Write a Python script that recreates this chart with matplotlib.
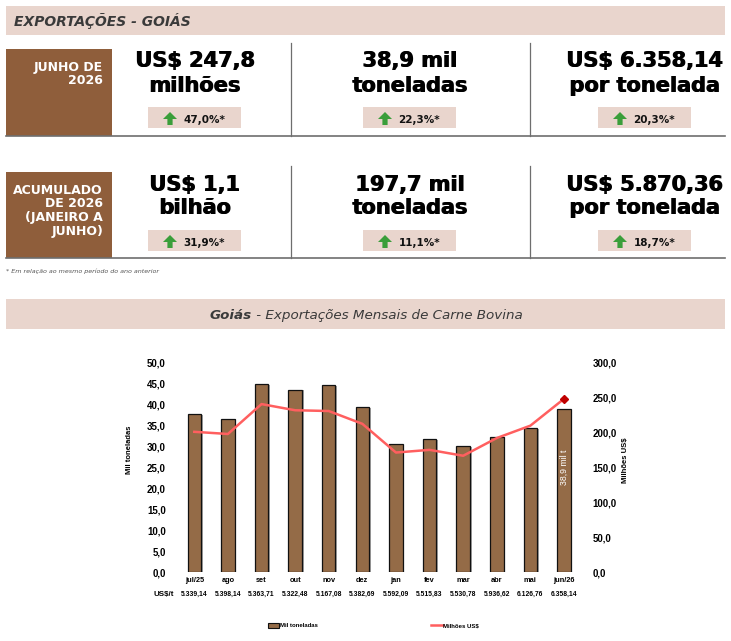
import matplotlib
matplotlib.use('Agg')
import matplotlib.pyplot as plt
from matplotlib.patches import Rectangle, Polygon
from matplotlib.lines import Line2D
import matplotlib.transforms as mtransforms
import matplotlib.patheffects as pe

# ---------------- data ----------------
months = ['jul/25', 'ago', 'set', 'out', 'nov', 'dez', 'jan', 'fev', 'mar', 'abr', 'mai', 'jun/26']
mil_toneladas = [37.6, 36.6, 44.8, 43.5, 44.6, 39.4, 30.6, 31.7, 30.1, 32.3, 34.3, 38.9]
milhoes_usd = [200.7, 197.6, 240.3, 231.5, 230.4, 212.1, 171.1, 174.9, 166.5, 191.8, 209.5, 247.8]
usd_por_t = ['5.339,14', '5.398,14', '5.363,71', '5.322,48', '5.167,08', '5.382,69',
             '5.592,09', '5.515,83', '5.530,78', '5.936,62', '6.126,76', '6.358,14']

kpi_periods = [['JUNHO DE', '2026'], ['ACUMULADO', 'DE 2026', '(JANEIRO A', 'JUNHO)']]
kpi_values = [
    [['US$ 247,8', 'milhões'], ['38,9 mil', 'toneladas'], ['US$ 6.358,14', 'por tonelada']],
    [['US$ 1,1', 'bilhão'], ['197,7 mil', 'toneladas'], ['US$ 5.870,36', 'por tonelada']],
]
kpi_changes = [['47,0%*', '22,3%*', '20,3%*'], ['31,9%*', '11,1%*', '18,7%*']]

title_top = 'EXPORTAÇÕES - GOIÁS'
chart_title_bold = 'Goiás'
chart_title_rest = ' - Exportações Mensais de Carne Bovina'
footnote = '* Em relação ao mesmo período do ano anterior'

# ---------------- style ----------------
W, H = 731, 641
PINK = '#E9D5CD'
BROWN_BOX = '#8F5E3B'
BAR = '#946B47'
LINE = '#FF5F5F'
MARK = '#C00000'
GREEN = '#3A9E3A'
GRAYLINE = '#6E6E6E'
CHART_FONT = 'Liberation Sans'

fig = plt.figure(figsize=(W / 100, H / 100), dpi=100)
fig.patch.set_facecolor('white')


def fx(x):
    return x / W


def fy(y):
    return 1 - y / H


def rect(x0, y0, x1, y1, color, z=1):
    fig.add_artist(Rectangle((fx(x0), fy(y1)), fx(x1) - fx(x0), fy(y0) - fy(y1),
                             transform=fig.transFigure, facecolor=color,
                             edgecolor='none', zorder=z))


def hline(x0, x1, y, color=GRAYLINE, lw=1.2):
    fig.add_artist(Line2D([fx(x0), fx(x1)], [fy(y), fy(y)], transform=fig.transFigure,
                          color=color, lw=lw, zorder=3))


def vline(x, y0, y1, color=GRAYLINE, lw=0.9):
    fig.add_artist(Line2D([fx(x), fx(x)], [fy(y0), fy(y1)], transform=fig.transFigure,
                          color=color, lw=lw, zorder=3))


def arrow(cx, yt, yb):
    pts = [(cx, yt), (cx + 7, yt + 7), (cx + 2.6, yt + 7), (cx + 2.6, yb),
           (cx - 2.6, yb), (cx - 2.6, yt + 7), (cx - 7, yt + 7)]
    fig.add_artist(Polygon([(fx(a), fy(b)) for a, b in pts], closed=True,
                           transform=fig.transFigure, facecolor=GREEN,
                           edgecolor='none', zorder=4))


def heavy_text(x, y, s, offsets, **kw):
    # overprint the same string with sub-pixel shifts for an extra-heavy look
    for dx in offsets:
        fig.text(fx(x + dx), fy(y), s, **kw)


# header band
rect(6, 6, 725, 35, PINK)
fig.text(fx(14), fy(26), title_top, fontsize=10, fontweight='bold', fontstyle='italic',
         color='#3A3A3A', ha='left', va='baseline', family='DejaVu Sans')

# KPI blocks
col_centers = [195, 410, 645]
block_tops = [49, 172]
block_bottom = [136, 258.5]
divider_tops = [43, 166]
period_baselines = [[70.7, 84.3], [194, 207.5, 221, 234.5]]
value_baselines = [[66.7, 91.5], [190.7, 214.2]]
box_tops = [107, 230]

for b in range(2):
    rect(6, block_tops[b], 112, block_bottom[b], BROWN_BOX, z=2)
    for line, yb in zip(kpi_periods[b], period_baselines[b]):
        fig.text(fx(103), fy(yb), line, fontsize=9, fontweight='bold', color='white',
                 ha='right', va='baseline', zorder=5)
    for c in range(3):
        cx = col_centers[c]
        for line, yb in zip(kpi_values[b][c], value_baselines[b]):
            heavy_text(cx, yb, line, (-0.4, 0.4), fontsize=15, fontweight='bold',
                       color='black', ha='center', va='baseline', zorder=5)
        bx0 = cx - 47
        bt = box_tops[b]
        rect(bx0, bt, bx0 + 93, bt + 21, PINK, z=2)
        arrow(bx0 + 22, bt + 5, bt + 18)
        fig.text(fx(bx0 + 35.5), fy(bt + 15.7), kpi_changes[b][c], fontsize=7.5,
                 fontweight='bold', color='#111111', ha='left', va='baseline', zorder=5)
    vline(291, divider_tops[b], block_bottom[b])
    vline(530, divider_tops[b], block_bottom[b])
    hline(6, 725, block_bottom[b])

fig.text(fx(6), fy(272.7), footnote, fontsize=4.6, fontstyle='italic', color='#555555',
         ha='left', va='baseline')

# chart title band
rect(6, 299, 725, 329, PINK)
t1 = fig.text(fx(210), fy(318.5), chart_title_bold, fontsize=9.7, fontweight='bold',
              fontstyle='italic', color='#3A3A3A', ha='left', va='baseline')
fig.canvas.draw()
bb = t1.get_window_extent()
fig.text(bb.x1 / W, fy(318.5), chart_title_rest, fontsize=9.7, fontstyle='italic',
         color='#3A3A3A', ha='left', va='baseline')

# ---------------- chart ----------------
ax_left, ax_right = 177.5, 580.8
ax_top, ax_bot = 362.3, 572.3
ax = fig.add_axes([fx(ax_left), fy(ax_bot), fx(ax_right) - fx(ax_left), (ax_bot - ax_top) / H])
x = list(range(len(months)))
ax.bar(x, mil_toneladas, width=0.4, color=BAR, edgecolor='#111111', linewidth=0.9, zorder=2,
       path_effects=[pe.SimplePatchShadow(offset=(1.2, -0.6), shadow_rgbFace='#9A9A9A', alpha=0.9),
                     pe.Normal()])
ax.set_xlim(-0.5, len(months) - 0.5)
ax.set_ylim(0, 50)
ax.set_yticks([v for v in range(0, 51, 5)])
ax.set_yticklabels([f'{v:.1f}'.replace('.', ',') for v in range(0, 51, 5)],
                   fontsize=7, fontweight='bold', family=CHART_FONT)
ax.set_xticks(x)
ax.set_xticklabels(months, fontsize=5.3, fontweight='bold', family=CHART_FONT)
ax.tick_params(axis='y', length=0, pad=8.5)
ax.tick_params(axis='x', length=0, pad=3.5)
for s in ax.spines.values():
    s.set_visible(False)

ax2 = ax.twinx()
ax2.plot(x, milhoes_usd, color=LINE, lw=1.8, solid_joinstyle='round', zorder=3)
ax2.plot([x[-1]], [milhoes_usd[-1]], marker='D', ms=3.8, color=MARK, zorder=4)
ax2.set_ylim(0, 300)
ax2.set_yticks(list(range(0, 301, 50)))
ax2.set_yticklabels([f'{v:.1f}'.replace('.', ',') for v in range(0, 301, 50)],
                    fontsize=7, fontweight='bold', family=CHART_FONT)
ax2.tick_params(axis='y', length=0, pad=8.5)
for s in ax2.spines.values():
    s.set_visible(False)

# bar label on last bar
ax.text(x[-1], 25.1, f'{mil_toneladas[-1]:.1f}'.replace('.', ',') + ' mil t', rotation=90,
        color='white', fontsize=6.3, ha='center', va='center', family=CHART_FONT, zorder=5)

# US$/t row
blend = mtransforms.blended_transform_factory(ax.transData, ax.transAxes)
for i, v in enumerate(usd_por_t):
    ax.text(i, -0.105, v, transform=blend, ha='center', va='center', fontsize=4.9,
            fontweight='bold', family=CHART_FONT)
ax.text(-0.035, -0.105, 'US$/t', transform=ax.transAxes, ha='center', va='center',
        fontsize=5.7, fontweight='bold', family=CHART_FONT)

# axis labels
ax.text(-0.120, 0.582, 'Mil toneladas', transform=ax.transAxes, rotation=90, ha='center',
        va='center', fontsize=5.5, fontweight='bold', family=CHART_FONT)
ax.text(1.112, 0.535, 'Milhões US$', transform=ax.transAxes, rotation=90, ha='center',
        va='center', fontsize=5.5, fontweight='bold', family=CHART_FONT)

# legend
handles = [Rectangle((0, 0), 1, 1, facecolor=BAR, edgecolor='#111111', linewidth=0.8),
           Line2D([], [], color=LINE, lw=1.8)]
ax.legend(handles, ['Mil toneladas', 'Milhões US$'], ncol=2, loc='center',
          bbox_to_anchor=(0.486, -0.254), frameon=False,
          prop={'family': CHART_FONT, 'size': 4.3, 'weight': 'bold'},
          handlelength=1.9, handleheight=0.9, columnspacing=19, handletextpad=0.1)

fig.savefig('out.png', dpi=100)
